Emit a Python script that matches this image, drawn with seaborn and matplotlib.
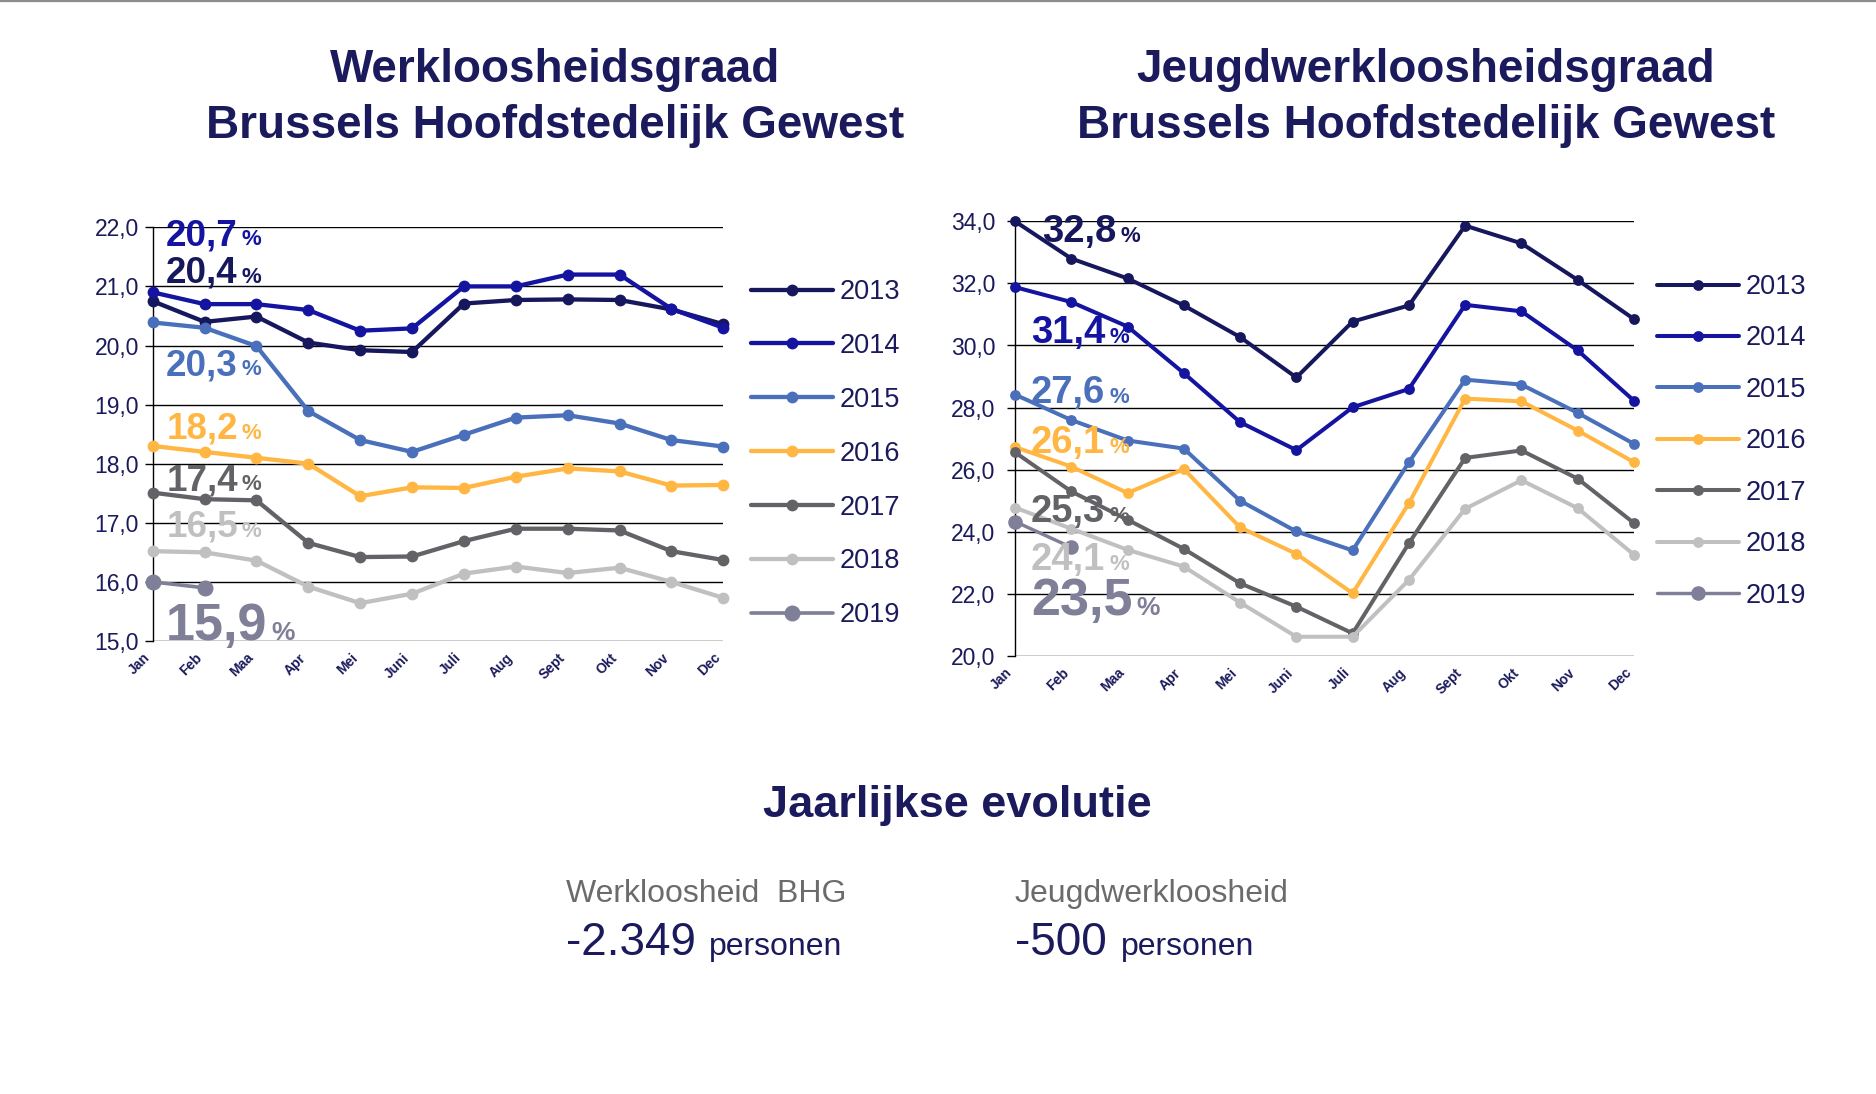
import numpy as np
import pandas as pd
import matplotlib
matplotlib.use("Agg")
import matplotlib.pyplot as plt
from matplotlib.ticker import FuncFormatter, MultipleLocator
from matplotlib.lines import Line2D
import seaborn as sns

# ---------------- data ----------------
months = ['Jan', 'Feb', 'Maa', 'Apr', 'Mei', 'Juni', 'Juli', 'Aug', 'Sept', 'Okt', 'Nov', 'Dec']
years = ['2013', '2014', '2015', '2016', '2017', '2018', '2019']

# Werkloosheidsgraad BHG (%)
w2013 = [20.75, 20.4, 20.49, 20.05, 19.92, 19.89, 20.71, 20.77, 20.78, 20.77, 20.61, 20.36]
w2014 = [20.9, 20.7, 20.7, 20.6, 20.25, 20.29, 21.0, 21.0, 21.2, 21.2, 20.62, 20.3]
w2015 = [20.39, 20.3, 19.99, 18.89, 18.40, 18.20, 18.49, 18.78, 18.82, 18.68, 18.40, 18.29]
w2016 = [18.30, 18.2, 18.10, 18.0, 17.45, 17.60, 17.59, 17.78, 17.92, 17.87, 17.63, 17.64]
w2017 = [17.51, 17.4, 17.38, 16.66, 16.42, 16.43, 16.69, 16.90, 16.90, 16.87, 16.52, 16.37]
w2018 = [16.52, 16.5, 16.36, 15.92, 15.64, 15.80, 16.14, 16.26, 16.15, 16.24, 16.0, 15.73]
w2019 = [16.0, 15.9]

# Jeugdwerkloosheidsgraad BHG (%)
j2013 = [34.0, 32.8, 32.16, 31.29, 30.27, 28.97, 30.77, 31.29, 33.86, 33.29, 32.11, 30.85]
j2014 = [31.88, 31.4, 30.61, 29.11, 27.53, 26.63, 28.01, 28.60, 31.31, 31.10, 29.84, 28.22]
j2015 = [28.42, 27.6, 26.94, 26.68, 25.0, 24.01, 23.40, 26.24, 28.90, 28.74, 27.83, 26.83]
j2016 = [26.73, 26.1, 25.25, 26.02, 24.14, 23.29, 22.02, 24.92, 28.29, 28.20, 27.26, 26.24]
j2017 = [26.56, 25.3, 24.39, 23.45, 22.34, 21.59, 20.73, 23.63, 26.38, 26.62, 25.71, 24.28]
j2018 = [24.78, 24.1, 23.42, 22.88, 21.72, 20.62, 20.62, 22.45, 24.74, 25.66, 24.76, 23.26]
j2019 = [24.33, 23.5]

werk = [w2013, w2014, w2015, w2016, w2017, w2018, w2019]
jeugd = [j2013, j2014, j2015, j2016, j2017, j2018, j2019]

titles_left = ['Werkloosheidsgraad', 'Brussels Hoofdstedelijk Gewest']
titles_right = ['Jeugdwerkloosheidsgraad', 'Brussels Hoofdstedelijk Gewest']
bottom_title = 'Jaarlijkse evolutie'
bottom_labels = ['Werkloosheid  BHG', 'Jeugdwerkloosheid']
bottom_values = ['-2.349', '-500']
bottom_unit = 'personen'

# ---------------- style ----------------
colors = ['#17175e', '#1414a0', '#4a70bb', '#ffb643', '#636367', '#c0c0c0', '#7f7f98']
NAVY = '#1a1a5c'
GRAY = '#6b6b6b'

sns.set_style('white')
plt.rcParams['font.family'] = ['Liberation Sans', 'DejaVu Sans']

W, H = 1876, 1094
fig = plt.figure(figsize=(W / 100, H / 100), dpi=100)


def fx(px):
    return px / W


def fy(py):
    return 1 - py / H


def comma(v, p=None):
    return f'{v:.1f}'.replace('.', ',')


def panel(rect, series, ylim, ystep, lw, ms, ms19, legend_xy, labelspacing,
          ann_pos, ann_size, ann_big, pct_size, pct_big, ypad):
    ax = fig.add_axes(rect)
    handles = []
    for i, (yr, vals) in enumerate(zip(years, series)):
        df = pd.DataFrame({'maand': np.arange(len(vals)), 'waarde': vals})
        big = (i == len(years) - 1)
        sns.lineplot(data=df, x='maand', y='waarde', ax=ax, color=colors[i],
                     lw=lw * (0.85 if big else 1), marker='o',
                     markersize=ms19 if big else ms, markeredgewidth=0,
                     clip_on=False, zorder=3 + i)
        handles.append(ax.lines[-1])
    ax.set_xlim(0, len(months) - 1)
    ax.set_ylim(*ylim)
    ax.yaxis.set_major_locator(MultipleLocator(ystep))
    ax.yaxis.set_major_formatter(FuncFormatter(comma))
    ax.set_xticks(np.arange(len(months)))
    ax.set_xticklabels(months, rotation=45, ha='right', va='top',
                       fontsize=10, fontweight='bold', color=NAVY)
    ax.set_xlabel('')
    ax.set_ylabel('')
    ax.tick_params(axis='x', length=0, pad=7)
    ax.tick_params(axis='y', length=6, width=1, color='black', pad=ypad,
                   labelsize=16.5, labelcolor=NAVY, left=True)
    ax.yaxis.grid(True, color='black', lw=1)
    ax.xaxis.grid(False)
    ax.set_axisbelow(True)
    for s in ['top', 'right', 'bottom']:
        ax.spines[s].set_visible(False)
    ax.spines['left'].set_color('black')
    ax.spines['left'].set_linewidth(1)

    fig.legend(handles, years, loc='upper left',
               bbox_to_anchor=(fx(legend_xy[0]), fy(legend_xy[1])),
               bbox_transform=fig.transFigure, frameon=False, borderpad=0,
               borderaxespad=0, handlelength=3.05, handletextpad=0.25,
               labelspacing=labelspacing, fontsize=19.5, labelcolor=NAVY)

    # value annotations (February values)
    renderer = fig.canvas.get_renderer()
    for i, vals in enumerate(series):
        big = (i == len(series) - 1)
        x, y = ann_pos[i]
        t = ax.text(x, y, comma(vals[1]), color=colors[i], fontweight='bold',
                    fontsize=ann_big if big else ann_size, va='baseline', ha='left',
                    zorder=20)
        bb = t.get_window_extent(renderer)
        xd = ax.transData.inverted().transform((bb.x1 + 4, 0))[0]
        ax.text(xd, y, '%', color=colors[i], fontweight='bold',
                fontsize=pct_big if big else pct_size, va='baseline', ha='left',
                zorder=20)
    return ax


# left panel
left_rect = [fx(152.7), fy(641), (723.3 - 152.7) / W, (641 - 227.3) / H]
left_ann = [(0.26, 21.06), (0.26, 21.70), (0.26, 19.50), (0.26, 18.42),
            (0.26, 17.55), (0.26, 16.76), (0.26, 15.02)]
panel(left_rect, werk, (15, 22), 1, 3.1, 8.5, 11.5, (750.7, 279), 1.03,
      left_ann, 26.5, 37.5, 16, 19, 4)

# right panel
right_rect = [fx(1015), fy(656), (1634 - 1015) / W, (656 - 221.3) / H]
right_ann = [(0.48, 33.34), (0.284, 30.07), (0.284, 28.14), (0.284, 26.53),
             (0.284, 24.33), (0.284, 22.77), (0.284, 21.32)]
panel(right_rect, jeugd, (20, 34), 2, 2.9, 7.8, 10.5, (1656.7, 274), 0.94,
      right_ann, 27.5, 37.5, 16, 19, 8)

# titles
for cx, lines in [(555, titles_left), (1426, titles_right)]:
    for line, base in zip(lines, [82, 138]):
        fig.text(fx(cx), fy(base), line, ha='center', va='baseline',
                 fontsize=33, fontweight='bold', color=NAVY)

# bottom block
fig.text(fx(957), fy(817), bottom_title, ha='center', va='baseline',
         fontsize=32.5, fontweight='bold', color=NAVY)
for x0, x1, lab, val in [(566, 709, bottom_labels[0], bottom_values[0]),
                         (1015, 1121, bottom_labels[1], bottom_values[1])]:
    fig.text(fx(x0), fy(902), lab, ha='left', va='baseline', fontsize=23, color=GRAY)
    fig.text(fx(x0), fy(955), val, ha='left', va='baseline', fontsize=33, color=NAVY)
    fig.text(fx(x1), fy(955), bottom_unit, ha='left', va='baseline', fontsize=23, color=NAVY)

# top rule
fig.add_artist(Line2D([0, 1], [fy(1), fy(1)], transform=fig.transFigure,
                      color='#8c8c8c', lw=1.6))

fig.savefig('out.png', dpi=100)
